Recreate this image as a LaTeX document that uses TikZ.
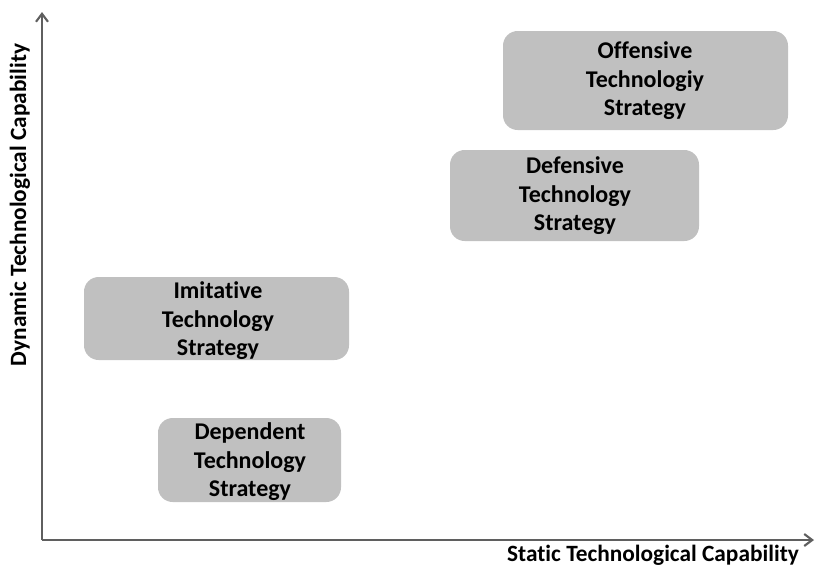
\documentclass[tikz,border=0pt]{standalone}
\usepackage{fontspec}
\setmainfont{Carlito}[Ligatures=NoCommon]
\usetikzlibrary{arrows.meta}
\begin{document}
\begin{tikzpicture}[x=0.75pt,y=-0.75pt,
  strategy/.style={draw=none,fill=boxgray,rounded corners=11pt,inner sep=0pt},
  boxtext/.style={font=\bfseries\fontsize{18}{21.4}\selectfont,align=center,text=black},
  axis/.style={draw=axisgray,line width=2.2pt,-{Straight Barb[length=6pt,width=9pt,line width=1.6pt]}},
  axislabel/.style={font=\bfseries\fontsize{17.5}{19}\selectfont,text=black}]
\definecolor{boxgray}{HTML}{C0C0C0}
\definecolor{axisgray}{HTML}{5F5F5F}
\useasboundingbox (0,0) rectangle (816,568);

% strategy boxes
\path[strategy] (503,31) rectangle (788,130);
\node[boxtext] (off) at (645,81) {Offensive\\Technologiy\\Strategy};
\path[strategy] (450,150) rectangle (699,241);
\node[boxtext] (def) at (575,196) {Defensive\\Technology\\Strategy};
\path[strategy] (84,277) rectangle (349,360);
\node[boxtext] (imi) at (218,321) {Imitative\\Technology\\Strategy};
\path[strategy] (158,418) rectangle (341,502);
\node[boxtext] (dep) at (250,462) {Dependent\\Technology\\Strategy};

% axes
\coordinate (origin) at (42,540);
\coordinate (ytip) at (42,12);
\coordinate (xtip) at (814,540);
\draw[axis] (origin) -- (ytip);
\draw[axis] (origin) -- (xtip);

\node[axislabel,rotate=90] (ylab) at (20,205) {Dynamic Technological Capability};
\node[axislabel] (xlab) at (653,555) {Static Technological Capability};
\end{tikzpicture}
\end{document}
